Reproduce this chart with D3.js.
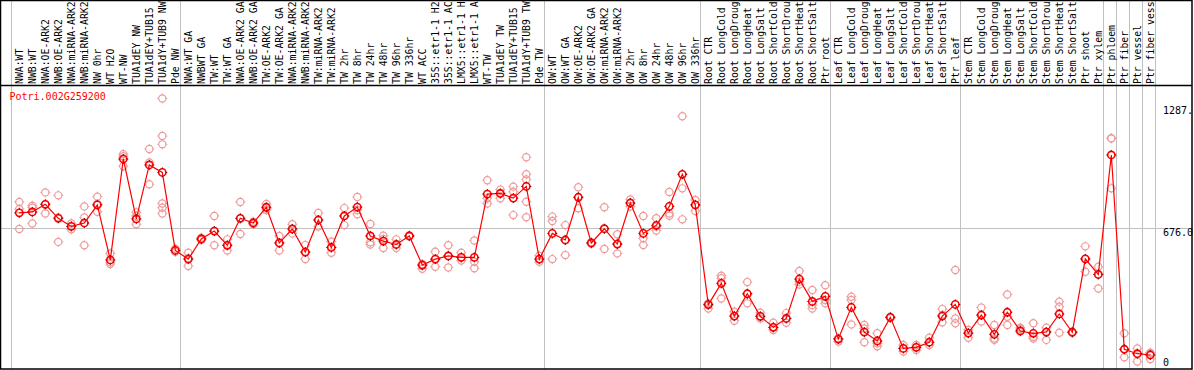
<!DOCTYPE html>
<html>
<head>
<meta charset="utf-8">
<script src="https://cdn.jsdelivr.net/npm/d3@7"></script>
<style>
  body { margin: 0; background: #fff; }
  svg { display: block; }
  text { font-family: "DejaVu Sans Mono", "Liberation Mono", monospace; font-size: 10px; }
</style>
</head>
<body>
<script>
var width = 1194,
    height = 370;

var gene = "Potri.002G259200";

// sample names, left to right
var labels = [
  "NWA:WT", "NWB:WT", "NWA:OE-ARK2", "NWB:OE-ARK2", "NWA:miRNA-ARK2", "NWB:miRNA-ARK2",
  "NW 0hr", "WT H2O", "WT-NW", "TUA1dEY NW", "TUA1dEY+TUB15 NW", "TUA1dY+TUB9 NW", "Pde NW",
  "NWA:WT GA", "NWBWT GA", "TW:WT", "TW:WT GA", "NWA:OE-ARK2 GA", "NWB:OE-ARK2 GA",
  "TW:OE-ARK2", "TW:OE-ARK2 GA", "NWA:miRNA-ARK2", "NWB:miRNA-ARK2", "TW:miRNA-ARK2",
  "TW:miRNA-ARK2", "TW 2hr", "TW 8hr", "TW 24hr", "TW 48hr", "TW 96hr", "TW 336hr", "WT ACC",
  "35S::etr1-1 H2O", "35S::etr1-1 ACC", "LMX5::etr1-1 H2O", "LMX5::etr1-1 ACC", "WT-TW",
  "TUA1dEY TW", "TUA1dEY+TUB15 TW", "TUA1dY+TUB9 TW", "Pde TW",
  "OW:WT", "OW:WT GA", "OW:OE-ARK2", "OW:OE-ARK2 GA", "OW:miRNA-ARK2", "OW:miRNA-ARK2",
  "OW 2hr", "OW 8hr", "OW 24hr", "OW 48hr", "OW 96hr", "OW 336hr",
  "Root CTR", "Root LongCold", "Root LongDrought", "Root LongHeat", "Root LongSalt",
  "Root ShortCold", "Root ShortDrought", "Root ShortHeat", "Root ShortSalt", "Ptr root",
  "Leaf CTR", "Leaf LongCold", "Leaf LongDrought", "Leaf LongHeat", "Leaf LongSalt",
  "Leaf ShortCold", "Leaf ShortDrought", "Leaf ShortHeat", "Leaf ShortSalt", "Ptr leaf",
  "Stem CTR", "Stem LongCold", "Stem LongDrought", "Stem LongHeat", "Stem LongSalt",
  "Stem ShortCold", "Stem ShortDrought", "Stem ShortHeat", "Stem ShortSalt", "Ptr shoot",
  "Ptr xylem", "Ptr phloem", "Ptr fiber", "Ptr vessel", "Ptr fiber vessel"
];

// mean expression per sample
var means = [
  749, 753, 789, 723, 685, 701, 786, 527, 1002, 720, 974, 939, 572,
  531, 626, 663, 596, 723, 701, 775, 607, 673, 564, 715, 586, 734, 776, 640,
  616, 600, 640, 503, 531, 546, 539, 539, 837, 840, 818, 873, 531,
  652, 621, 822, 607, 674, 602, 795, 652, 690, 779, 930, 786,
  317, 417, 263, 368, 262, 210, 252, 437, 332, 356,
  155, 304, 188, 146, 257, 111, 116, 140, 263, 318,
  183, 268, 177, 281, 193, 182, 188, 273, 187, 532, 459,
  1021, 107, 86, 80
];

// replicate values per sample
var reps = [
  [800, 767, 673], [782, 773, 699], [845, 789, 746], [831, 612, 727], [699, 685, 671],
  [779, 727, 596], [825, 790, 754], [558, 516, 508], [1025, 1015, 968], [751, 734, 695],
  [1049, 986, 883], [1287, 1110, 1071, 793, 773, 746], [580, 572, 565],
  [561, 535, 499], [632, 626, 621], [734, 663, 596], [624, 596, 571], [800, 723, 649],
  [707, 701, 695], [790, 771, 762], [640, 607, 572], [695, 673, 652], [597, 564, 531],
  [748, 715, 684], [613, 586, 561], [771, 734, 691], [823, 762, 742], [696, 610, 600],
  [641, 626, 583], [624, 600, 583], [642, 640, 638], [508, 500, 486], [566, 531, 495],
  [596, 546, 492], [561, 539, 524], [619, 519, 488], [902, 817, 793], [858, 840, 817],
  [872, 848, 738], [1010, 930, 906, 801, 728], [547, 531, 519],
  [731, 710, 531], [691, 621, 550], [869, 822, 770], [610, 607, 603], [775, 674, 579],
  [648, 602, 558], [812, 795, 778], [734, 629, 597], [723, 684, 666], [847, 746, 735],
  [1203, 864, 718], [809, 786, 757],
  [323, 315, 299], [453, 441, 346], [284, 263, 241], [423, 368, 323], [279, 262, 252],
  [232, 210, 198], [277, 252, 232], [475, 425, 412], [386, 315, 299], [408, 339, 323],
  [158, 155, 143], [354, 339, 224], [221, 205, 140], [182, 135, 121], [260, 257, 254],
  [127, 111, 96], [127, 116, 103], [161, 140, 127], [296, 268, 234], [480, 252, 229],
  [198, 183, 161], [303, 268, 237], [221, 158, 151], [365, 260, 221], [208, 202, 190],
  [229, 166, 158], [208, 188, 151], [331, 307, 185], [190, 187, 184], [591, 532, 472],
  [495, 459, 393],
  [1100, 1099, 864], [182, 107, 69], [111, 86, 49], [91, 86, 61]
];

// last sample index of each group (-1 = left edge)
var groupEnds = [-1, 12, 40, 52, 62, 72, 83, 84, 85, 86, 87];

var yMax = 1352;
var tickValues = [1287.6, 676, 0];
var tickLabels = ["1287.", "676.0", "0"];

var plotTop = 85, plotBottom = 369, right = 1192;
// header only has room for 14 characters, like the original
var maxChars = 14;

var x = d3.scaleLinear().domain([0, labels.length - 1]).range([19.3, 19.3 + 13 * (labels.length - 1)]);
var y = d3.scaleLinear().domain([0, yMax]).range([372, 84.6]);

var svg = d3.select("body").append("svg")
    .attr("width", width)
    .attr("height", height);

// group separators (through header and plot)
svg.append("g")
    .selectAll("line")
    .data(groupEnds)
    .enter()
    .append("line")
    .attr("x1", d => Math.round(x(d) + 5) + 0.5)
    .attr("x2", d => Math.round(x(d) + 5) + 0.5)
    .attr("y1", 0)
    .attr("y2", plotBottom)
    .attr("stroke", "#c0c0c0")
    .attr("stroke-width", 1);

// mid gridline
svg.append("line")
    .attr("x1", 1).attr("x2", right)
    .attr("y1", Math.round(y(676)) + 0.5).attr("y2", Math.round(y(676)) + 0.5)
    .attr("stroke", "#c0c0c0");

// sample labels, rotated
svg.append("g")
    .selectAll("text")
    .data(labels)
    .enter()
    .append("text")
    .attr("transform", (d, i) => "translate(" + (x(i) + 3.5) + "," + (plotTop - 1) + ") rotate(-90)")
    .attr("fill", "#000")
    .style("font-size", "9.8px")
    .text(d => d.slice(0, maxChars));

// frame
svg.append("rect")
    .attr("x", 0.5).attr("y", 0.5)
    .attr("width", right - 0.5).attr("height", plotBottom - 0.5)
    .attr("fill", "none").attr("stroke", "#000").attr("stroke-width", 1.5);
svg.append("line")
    .attr("x1", 0).attr("x2", right)
    .attr("y1", plotTop + 0.5).attr("y2", plotTop + 0.5)
    .attr("stroke", "#000").attr("stroke-width", 1.5);

// y labels on the right, kept inside the plot
svg.append("g")
    .selectAll("text")
    .data(tickValues)
    .enter()
    .append("text")
    .attr("x", 1163)
    .attr("y", d => Math.max(plotTop + 29, Math.min(plotBottom - 3, y(d) + 8)))
    .attr("fill", "#000")
    .text((d, i) => tickLabels[i]);

function marker(g, stroke, sw, tick) {
    g.append("circle").attr("r", 3.6).attr("fill", "none")
        .attr("stroke", stroke).attr("stroke-width", sw);
    [[0, -1], [0, 1], [-1, 0], [1, 0]].forEach(function (p) {
        g.append("line")
            .attr("x1", p[0] * 3.6).attr("y1", p[1] * 3.6)
            .attr("x2", p[0] * 5).attr("y2", p[1] * 5)
            .attr("stroke", tick).attr("stroke-width", 1);
    });
}

// replicates
var repPts = [];
reps.forEach(function (r, i) { r.forEach(function (v) { repPts.push([i, v]); }); });
svg.append("g")
    .selectAll("g")
    .data(repPts)
    .enter()
    .append("g")
    .attr("transform", d => "translate(" + x(d[0]) + "," + y(d[1]) + ")")
    .each(function () { marker(d3.select(this), "#ef9a9a", 1.2, "#ef9a9a"); });

// mean line
svg.append("path")
    .datum(means)
    .attr("fill", "none")
    .attr("stroke", "#ff0000")
    .attr("stroke-width", 1.2)
    .attr("d", d3.line().x((d, i) => x(i)).y(d => y(d)));

// mean markers
svg.append("g")
    .selectAll("g")
    .data(means)
    .enter()
    .append("g")
    .attr("transform", (d, i) => "translate(" + x(i) + "," + y(d) + ")")
    .each(function () { marker(d3.select(this), "#ff0000", 1.6, "#800000"); });

// gene name
svg.append("text")
    .attr("x", 9.5)
    .attr("y", 100)
    .attr("fill", "#ff0000")
    .text(gene);
</script>
</body>
</html>
